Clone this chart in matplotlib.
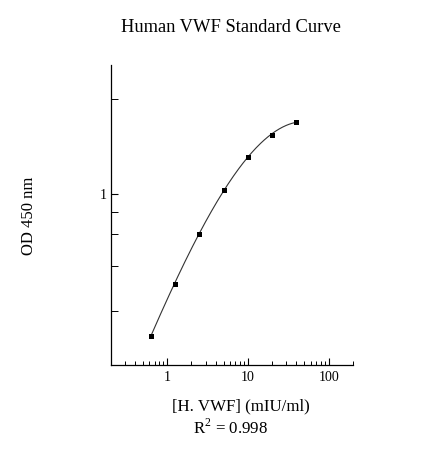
# plot.py
# Human VWF standard curve (log-log, serif text, inward ticks)

import numpy as np
import matplotlib
matplotlib.use("Agg")
import matplotlib.pyplot as plt
from matplotlib.ticker import FixedLocator, NullFormatter, LogLocator

# --- Data ---
conc = [0.625, 1.25, 2.5, 5, 10, 20, 40]          # mIU/ml
od = [0.432, 0.589, 0.790, 1.026, 1.244, 1.417, 1.532]

x_major = [1, 10, 100]
x_major_labels = ["1", "10", "100"]
y_major = [1]
y_major_labels = ["1"]
y_minor = [0.502, 0.655, 0.79, 0.901, 1.75]

title = "Human VWF Standard Curve"
x_label = "[H. VWF] (mIU/ml)"
y_label = "OD 450 nm"
r2_text = "R$^{\\mathrm{2}}$ = 0.998"

# --- Style ---
plt.rcParams["font.family"] = ["Liberation Serif", "DejaVu Serif"]
plt.rcParams["mathtext.fontset"] = "custom"
plt.rcParams["mathtext.rm"] = "Liberation Serif"

fig = plt.figure(figsize=(4.39, 4.57), dpi=100)
ax = fig.add_axes([0.252, 0.201, 0.552, 0.657])

# smooth fitted curve (cubic in log-log space)
lx = np.log10(conc)
ly = np.log10(od)
coef = np.polyfit(lx, ly, 3)
xs = np.linspace(lx[0], lx[-1], 200)
ax.plot(10 ** xs, 10 ** np.polyval(coef, xs), color="#333333", lw=0.8)
ax.plot(conc, od, "s", color="black", ms=3.6, mew=0)

ax.set_xscale("log")
ax.set_yscale("log")
ax.set_xlim(0.2, 200)
ax.set_ylim(0.364, 2.142)

ax.xaxis.set_major_locator(FixedLocator(x_major))
ax.set_xticklabels(x_major_labels)
ax.xaxis.set_minor_locator(LogLocator(base=10, subs=np.arange(2, 10)))
ax.xaxis.set_minor_formatter(NullFormatter())

ax.yaxis.set_major_locator(FixedLocator(y_major))
ax.set_yticklabels(y_major_labels)
ax.yaxis.set_minor_locator(FixedLocator(y_minor))
ax.yaxis.set_minor_formatter(NullFormatter())

for s in ["top", "right"]:
    ax.spines[s].set_visible(False)
for s in ["left", "bottom"]:
    ax.spines[s].set_linewidth(0.9)

ax.tick_params(which="major", direction="in", length=5, width=0.8, labelsize=10, pad=4)
ax.tick_params(axis="y", which="major", pad=3)
ax.tick_params(which="minor", direction="in", length=3, width=0.7)
ax.tick_params(axis="y", which="minor", length=5)

fig.text(0.526, 0.94, title, ha="center", va="center", fontsize=13.3)
fig.text(0.549, 0.110, x_label, ha="center", va="center", fontsize=12.2)
fig.text(0.525, 0.063, r2_text, ha="center", va="center", fontsize=12.2)
fig.text(0.066, 0.527, y_label, ha="center", va="center", rotation=90, fontsize=12)

fig.savefig("out.png", dpi=100)
